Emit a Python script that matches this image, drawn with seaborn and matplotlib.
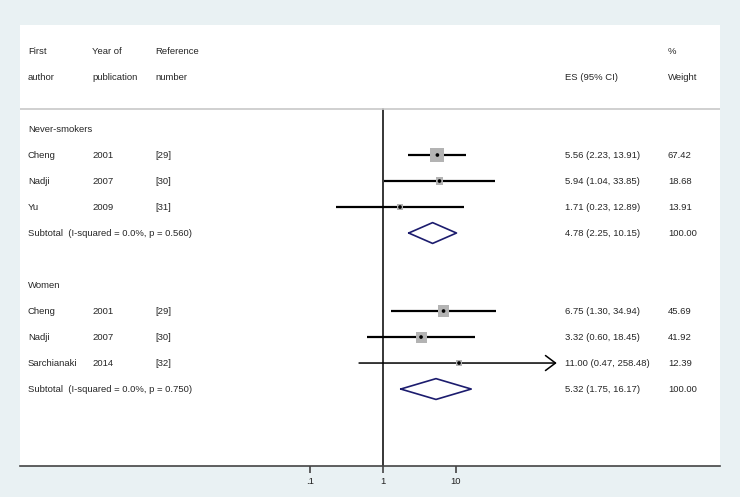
import numpy as np
import seaborn as sns
import matplotlib.pyplot as plt
from matplotlib import transforms

# data
groups = ['Never-smokers', 'Women']
authors = [['Cheng', 'Nadji', 'Yu'], ['Cheng', 'Nadji', 'Sarchianaki']]
years = [['2001', '2007', '2009'], ['2001', '2007', '2014']]
refs = [['[29]', '[30]', '[31]'], ['[29]', '[30]', '[32]']]
es = [[5.56, 5.94, 1.71], [6.75, 3.32, 11.00]]
lo = [[2.23, 1.04, 0.23], [1.30, 0.60, 0.47]]
hi = [[13.91, 33.85, 12.89], [34.94, 18.45, 258.48]]
weights = [[67.42, 18.68, 13.91], [45.69, 41.92, 12.39]]
sub_es = [4.78, 5.32]
sub_lo = [2.25, 1.75]
sub_hi = [10.15, 16.17]
sub_i2 = ['0.0%', '0.0%']
sub_p = ['0.560', '0.750']
tick_vals = [0.1, 1, 10]
tick_labels = ['.1', '1', '10']

sns.set_theme(style='white')
plt.rcParams['font.family'] = ['Liberation Sans', 'DejaVu Sans']

bg = '#e9f1f3'
fs = 6.8
fig = plt.figure(figsize=(7.4, 4.97), dpi=100, facecolor=bg)
ax = fig.add_axes([20 / 740, 31 / 497, 700 / 740, 441 / 497])
ax.set_facecolor('white')

x_cap = 10 ** 2.38
ax.set_xscale('log')
ax.set_xlim(10 ** (-363 / 73), 10 ** (337 / 73))
ax.set_ylim(12.96, -4)

tr = transforms.blended_transform_factory(ax.transAxes, ax.transData)
col_x = [0.0114, 0.1029, 0.1929, 0.7786, 0.9257]

# header
ax.text(col_x[0], -3, 'First', transform=tr, fontsize=fs, va='center')
ax.text(col_x[0], -2, 'author', transform=tr, fontsize=fs, va='center')
ax.text(col_x[1], -3, 'Year of', transform=tr, fontsize=fs, va='center')
ax.text(col_x[1], -2, 'publication', transform=tr, fontsize=fs, va='center')
ax.text(col_x[2], -3, 'Reference', transform=tr, fontsize=fs, va='center')
ax.text(col_x[2], -2, 'number', transform=tr, fontsize=fs, va='center')
ax.text(col_x[3], -2, 'ES (95% CI)', transform=tr, fontsize=fs, va='center')
ax.text(col_x[4], -3, '%', transform=tr, fontsize=fs, va='center')
ax.text(col_x[4], -2, 'Weight', transform=tr, fontsize=fs, va='center')
ax.axhline(-0.77, color='#c8c8c8', lw=1.2)

ax.plot([1, 1], [-0.77, 12.96], color='black', lw=1.1, zorder=1)

row = 0
pts_x, pts_y, pts_w = [], [], []
for g in range(len(groups)):
    ax.text(col_x[0], row, groups[g], transform=tr, fontsize=fs, va='center')
    row += 1
    for i in range(len(authors[g])):
        ax.text(col_x[0], row, authors[g][i], transform=tr, fontsize=fs, va='center')
        ax.text(col_x[1], row, years[g][i], transform=tr, fontsize=fs, va='center')
        ax.text(col_x[2], row, refs[g][i], transform=tr, fontsize=fs, va='center')
        ax.text(col_x[3], row, f'{es[g][i]:.2f} ({lo[g][i]:.2f}, {hi[g][i]:.2f})',
                transform=tr, fontsize=fs, va='center')
        ax.text(col_x[4], row, f'{weights[g][i]:.2f}', transform=tr, fontsize=fs, va='center')
        if hi[g][i] > x_cap:
            ax.annotate('', xy=(x_cap, row), xytext=(lo[g][i], row),
                        arrowprops=dict(arrowstyle='->,head_length=0.6,head_width=0.45',
                                        lw=1.1, color='black', shrinkA=0, shrinkB=0))
        else:
            ax.plot([lo[g][i], hi[g][i]], [row, row], color='black', lw=1.6,
                    solid_capstyle='butt', zorder=2)
        pts_x.append(es[g][i])
        pts_y.append(row)
        pts_w.append(weights[g][i])
        row += 1
    ax.text(col_x[0], row, f'Subtotal  (I-squared = {sub_i2[g]}, p = {sub_p[g]})',
            transform=tr, fontsize=fs, va='center')
    ax.text(col_x[3], row, f'{sub_es[g]:.2f} ({sub_lo[g]:.2f}, {sub_hi[g]:.2f})',
            transform=tr, fontsize=fs, va='center')
    ax.text(col_x[4], row, '100.00', transform=tr, fontsize=fs, va='center')
    dx = [sub_lo[g], sub_es[g], sub_hi[g], sub_es[g], sub_lo[g]]
    dy = [row, row - 0.4, row, row + 0.4, row]
    ax.plot(dx, dy, color='#1c1c6e', lw=1.2, zorder=3)
    row += 2

sns.scatterplot(x=pts_x, y=pts_y, size=pts_w, sizes={w: 1.5 * w for w in pts_w},
                marker='s', color='#b3b3b3', edgecolor='none', legend=False, ax=ax, zorder=5)
sns.scatterplot(x=pts_x, y=pts_y, s=7, color='black', edgecolor='none', ax=ax, zorder=6)

for s in ['top', 'left', 'right']:
    ax.spines[s].set_visible(False)
ax.spines['bottom'].set_color('#444444')
ax.spines['bottom'].set_linewidth(1.2)
ax.set_yticks([])
ax.set_xticks(tick_vals)
ax.set_xticklabels(tick_labels, fontsize=fs)
ax.minorticks_off()
ax.tick_params(axis='x', bottom=True, direction='out', length=5, width=1.2,
               color='#444444', pad=3, labelcolor='#222222')

fig.savefig('out.png', dpi=100, facecolor=bg)
